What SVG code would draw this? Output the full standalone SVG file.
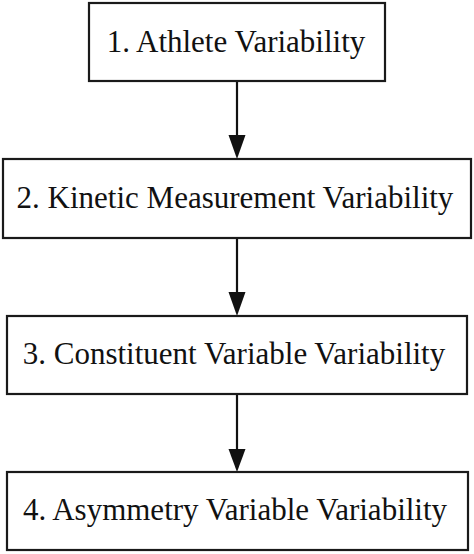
<svg xmlns="http://www.w3.org/2000/svg" width="474" height="554" viewBox="0 0 474 554">
<style>
.box{fill:#fff;stroke:#1a1a1a;stroke-width:2.2}
.lbl{font-family:"Liberation Serif","Times New Roman",serif;font-size:31px;fill:#111;text-anchor:middle}
.edge{stroke:#111;stroke-width:2.2;fill:none}
.head{fill:#111}
</style>
<rect width="474" height="554" fill="#fff"/>
<g id="connectors">
<line class="edge" x1="237" y1="81" x2="237" y2="136"/>
<path class="head" d="M228.5,135 L245.5,135 L237,159 Z"/>
<line class="edge" x1="237" y1="238" x2="237" y2="293"/>
<path class="head" d="M228.5,292 L245.5,292 L237,316 Z"/>
<line class="edge" x1="237" y1="394" x2="237" y2="450"/>
<path class="head" d="M228.5,449 L245.5,449 L237,472 Z"/>
</g>
<g id="node1">
<rect class="box" x="89" y="3" width="296" height="78"/>
<text class="lbl" x="236" y="52">1. Athlete Variability</text>
</g>
<g id="node2">
<rect class="box" x="3" y="159" width="468" height="79"/>
<text class="lbl" x="235" y="208">2. Kinetic Measurement Variability</text>
</g>
<g id="node3">
<rect class="box" x="7" y="316" width="460" height="78"/>
<text class="lbl" x="234" y="364">3. Constituent Variable Variability</text>
</g>
<g id="node4">
<rect class="box" x="7" y="472" width="461" height="78"/>
<text class="lbl" x="235" y="520">4. Asymmetry Variable Variability</text>
</g>
</svg>
